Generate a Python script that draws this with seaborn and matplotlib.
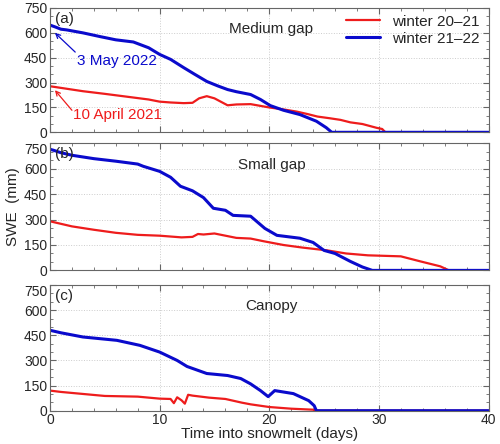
import numpy as np
import pandas as pd
import matplotlib.pyplot as plt
import seaborn as sns
from matplotlib.ticker import MultipleLocator

# SWE (mm), días desde inicio de fusión
# (a) Medium gap
a_red_t = [0, 1, 2, 3, 5, 7, 9, 10, 11, 12.2, 13, 13.6, 14.3, 15, 16.2, 17, 18.3, 20, 21.3, 22.5, 23.5, 24.4, 25.5, 26.5, 27.4, 28.5, 29.8, 30.3, 30.6, 40]
a_red_v = [278, 268, 258, 248, 232, 215, 198, 185, 180, 176, 178, 205, 218, 205, 163, 168, 170, 150, 138, 125, 110, 95, 85, 75, 60, 50, 27, 20, 0, 0]
a_blue_t = [0, 0.5, 1, 1.5, 3, 4.6, 6, 7.6, 9, 10, 11, 12.2, 13.2, 14.3, 15.3, 16.2, 17, 18.3, 19.2, 20.1, 21.3, 22.8, 24.3, 25.2, 25.7, 40]
a_blue_v = [647, 635, 622, 618, 600, 577, 558, 545, 510, 470, 440, 390, 350, 307, 280, 258, 245, 228, 198, 161, 133, 107, 67, 28, 0, 0]

# (b) Small gap
b_red_t = [0, 1, 2, 4, 6, 8, 10, 12, 13, 13.5, 14, 15, 16, 17, 18.3, 19.5, 21.3, 23, 25.3, 27, 29, 32, 33.8, 35.6, 36.4, 40]
b_red_v = [290, 275, 260, 240, 222, 210, 205, 195, 198, 215, 212, 218, 205, 192, 188, 172, 150, 135, 118, 100, 89, 83, 53, 24, 0, 0]
b_blue_t = [0, 0.3, 1, 2, 4, 6, 8, 8.5, 10, 11, 11.9, 13, 14, 14.9, 16, 16.7, 18.3, 19.6, 20.7, 22.8, 24, 25, 26, 27.4, 28.5, 29.4, 40]
b_blue_v = [715, 710, 695, 680, 660, 645, 628, 615, 585, 550, 497, 470, 430, 367, 355, 325, 320, 248, 207, 190, 165, 118, 100, 53, 20, 0, 0]

# (c) Canopy
c_red_t = [0, 1, 3, 5, 8, 10, 11, 11.3, 11.6, 12, 12.3, 12.6, 13, 14.5, 16, 17.5, 18.3, 20, 22, 24, 24.3, 40]
c_red_v = [120, 112, 100, 88, 84, 72, 70, 45, 80, 62, 42, 95, 90, 78, 70, 48, 38, 22, 12, 6, 0, 0]
c_blue_t = [0, 1, 3, 6.1, 8.2, 10, 11.6, 12.5, 14.3, 16.2, 17.4, 18.3, 19.2, 19.9, 20.5, 22.2, 23.6, 24.1, 24.3, 40]
c_blue_v = [480, 465, 440, 420, 390, 350, 300, 264, 222, 210, 192, 160, 120, 84, 120, 102, 60, 30, 0, 0]

panels = [
    ('(a)', 'Medium gap', a_red_t, a_red_v, a_blue_t, a_blue_v),
    ('(b)', 'Small gap', b_red_t, b_red_v, b_blue_t, b_blue_v),
    ('(c)', 'Canopy', c_red_t, c_red_v, c_blue_t, c_blue_v),
]

RED = '#ee1c1c'
BLUE = '#0a0acc'

sns.set_style('ticks')
plt.rcParams['font.family'] = ['Liberation Sans', 'DejaVu Sans']

fig = plt.figure(figsize=(5, 4.44), dpi=100)
boxes = [(0.982, 0.702), (0.677, 0.391), (0.358, 0.075)]
axes = []
for (top, bot) in boxes:
    axes.append(fig.add_axes([0.10, bot, 0.877, top - bot]))

for ax, (lab, name, rt, rv, bt, bv) in zip(axes, panels):
    df_r = pd.DataFrame({'t': rt, 'swe': rv})
    df_b = pd.DataFrame({'t': bt, 'swe': bv})
    sns.lineplot(data=df_r, x='t', y='swe', ax=ax, color=RED, lw=1.6, label='winter 20\u201321')
    sns.lineplot(data=df_b, x='t', y='swe', ax=ax, color=BLUE, lw=2.2, label='winter 21\u201322')
    ax.set_xlim(0, 40)
    ax.set_ylim(0, 750)
    ax.set_yticks(np.arange(0, 751, 150))
    ax.set_xticks([0, 10, 20, 30, 40])
    ax.xaxis.set_minor_locator(MultipleLocator(2))
    ax.yaxis.set_minor_locator(MultipleLocator(50))
    ax.tick_params(which='both', direction='in', top=True, right=True, labelsize=10,
                   color='#666666', pad=2)
    ax.tick_params(which='major', length=4)
    ax.tick_params(which='minor', length=2)
    ax.grid(True, which='major', ls=':', color='#cccccc', lw=0.7)
    for s in ax.spines.values():
        s.set_color('#666666')
    ax.set_xlabel('')
    ax.set_ylabel('')
    ax.text(0.012, 0.97, lab, transform=ax.transAxes, ha='left', va='top', fontsize=11)
    ax.text(0.505, 0.83, name, transform=ax.transAxes, ha='center', va='center', fontsize=11)
    if ax is not axes[2]:
        ax.set_xticklabels([])
    if ax is axes[0]:
        ax.legend(loc='upper right', frameon=False, fontsize=11, handlelength=2.2,
                  bbox_to_anchor=(1.0, 1.02), borderaxespad=0.2, labelspacing=0.2)
    else:
        ax.get_legend().remove()

# flechas y etiquetas de fecha de inicio
ax = axes[0]
ax.annotate('', xy=(0.45, 600), xytext=(2.3, 484),
            arrowprops=dict(arrowstyle='->', color=BLUE, lw=0.9, mutation_scale=8, shrinkA=0, shrinkB=0))
ax.text(2.45, 432, '3 May 2022', color=BLUE, fontsize=11, ha='left', va='center')
ax.annotate('', xy=(0.45, 254), xytext=(2.0, 133),
            arrowprops=dict(arrowstyle='->', color=RED, lw=0.9, mutation_scale=8, shrinkA=0, shrinkB=0))
ax.text(2.1, 106, '10 April 2021', color=RED, fontsize=11, ha='left', va='center')

# el 750 de los paneles b y c baja un poco, como en el original
for a in axes[1:]:
    a.get_yticklabels()[-1].set_verticalalignment('top')

axes[1].set_ylabel('SWE  (mm)', fontsize=11, labelpad=3)
axes[2].set_xlabel('Time into snowmelt (days)', fontsize=11, labelpad=0)

fig.savefig('out.png', dpi=100)
